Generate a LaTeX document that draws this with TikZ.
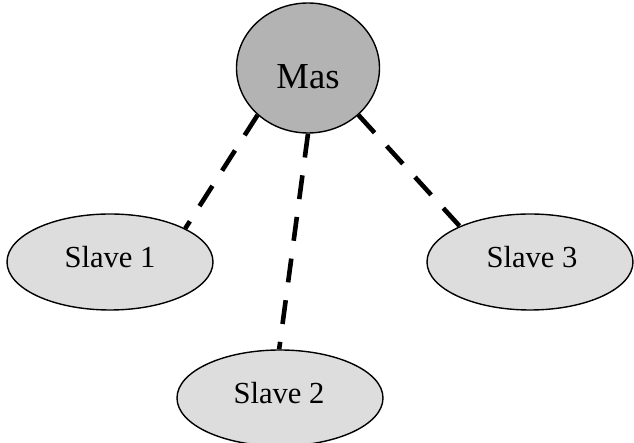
\documentclass[tikz,border=0pt]{standalone}
\usepackage{fontspec}
\setmainfont{Liberation Serif}
\usetikzlibrary{shapes.geometric}
\definecolor{mastergray}{RGB}{179,179,179}
\definecolor{slavegray}{RGB}{221,221,221}
\tikzset{
  masterbox/.style={ellipse, draw=black, line width=0.7pt, fill=mastergray, inner sep=0pt, minimum width=71.5pt, minimum height=65pt},
  slavebox/.style={ellipse, draw=black, line width=0.7pt, fill=slavegray, inner sep=0pt, minimum width=103pt, minimum height=48pt},
  mastertext/.style={inner sep=0pt, font=\fontsize{18.3}{20}\selectfont},
  slavetext/.style={inner sep=0pt, font=\fontsize{15.3}{17}\selectfont},
  link/.style={line width=2.3pt, dash pattern=on 12pt off 9pt}
}
\begin{document}
\begin{tikzpicture}[x=0.5pt,y=-0.5pt]
\useasboundingbox (0,0) rectangle (634,443);
\node[masterbox] (m) at (308,68) {};
\node[slavebox] (s1) at (110,262) {};
\node[slavebox] (s2) at (280,398) {};
\node[slavebox] (s3) at (530,262) {};
\draw[link] (m.223) -- (s1.24);
\draw[link] (m.270) -- (s2.91);
\draw[link] (m.317) -- (s3.153);
\node[mastertext] (mt) at (308,77) {Mas};
\node[slavetext] (t1) at (110,257.5) {Slave 1};
\node[slavetext] (t2) at (279,393.5) {Slave 2};
\node[slavetext] (t3) at (532,257.5) {Slave 3};
\end{tikzpicture}
\end{document}
